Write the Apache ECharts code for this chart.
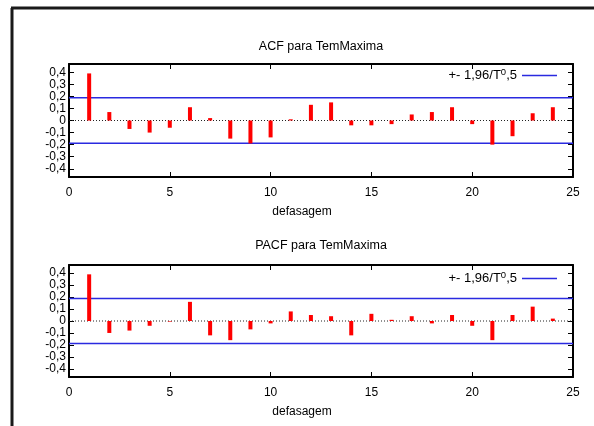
<!DOCTYPE html>
<html>
<head>
<meta charset="utf-8">
<script src="https://cdn.jsdelivr.net/npm/echarts@6/dist/echarts.min.js"></script>
<style>
html,body{margin:0;padding:0;background:#fff;}
#chart{width:594px;height:426px;}
</style>
</head>
<body>
<div id="chart"></div>
<script>
// ---- data ----
const lags = [1,2,3,4,5,6,7,8,9,10,11,12,13,14,15,16,17,18,19,20,21,22,23,24];
const acfValues = [0.39,0.07,-0.07,-0.10,-0.06,0.11,0.02,-0.15,-0.19,-0.14,0.01,0.13,0.15,-0.04,-0.04,-0.03,0.05,0.07,0.11,-0.03,-0.20,-0.13,0.06,0.11];
const pacfValues = [0.39,-0.10,-0.08,-0.04,-0.005,0.16,-0.12,-0.16,-0.07,-0.02,0.08,0.05,0.04,-0.12,0.06,0.01,0.04,-0.02,0.05,-0.04,-0.16,0.05,0.12,0.02];
const bandValue = 0.188;
const yTicks = [-0.4,-0.3,-0.2,-0.1,0,0.1,0.2,0.3,0.4];
const xRange = [0, 25];
const titles = ['ACF para TemMaxima', 'PACF para TemMaxima'];
const xName = 'defasagem';
const bandName = '+- 1,96/T^0,5';

const FONT = '"Liberation Sans", Arial, sans-serif';
const chart = echarts.init(document.getElementById('chart'), null, {renderer:'canvas'});

const grids = [
  {left:69, top:64, width:504, height:113},
  {left:69, top:265, width:504, height:112}
];
const yMax = 0.468;
const BAND_COLOR = '#2a2ae0';

function fmtY(v){
  const r = Math.round(v*10)/10;
  if (r === 0) return '0';
  return r.toFixed(1).replace('.', ',');
}

const xAxes = [], yAxes = [], series = [];
grids.forEach((g, i) => {
  xAxes.push({
    gridIndex:i, type:'value', min:xRange[0], max:xRange[1], interval:5, position:'bottom',
    axisLine:{onZero:false, lineStyle:{color:'#000', width:2}},
    axisTick:{inside:true, length:5, lineStyle:{color:'#000', width:1}},
    axisLabel:{color:'#000', fontSize:12, fontFamily:FONT, margin:10},
    splitLine:{show:false},
    name:xName, nameLocation:'middle', nameGap:29,
    nameTextStyle:{color:'#000', fontSize:12, fontFamily:FONT, padding:[0,38,0,0]}
  });
  xAxes.push({
    gridIndex:i, type:'value', min:xRange[0], max:xRange[1], interval:5, position:'top',
    axisLine:{onZero:false, lineStyle:{color:'#000', width:2}},
    axisTick:{inside:true, length:5, lineStyle:{color:'#000', width:1}},
    axisLabel:{show:false}, splitLine:{show:false}
  });
  yAxes.push({
    gridIndex:i, type:'value', min:-yMax, max:yMax, position:'left',
    axisLine:{onZero:false, lineStyle:{color:'#000', width:2}},
    axisTick:{inside:true, length:5, customValues:yTicks, lineStyle:{color:'#000', width:1}},
    axisLabel:{color:'#000', fontSize:12, lineHeight:12, fontFamily:FONT, margin:3, customValues:yTicks, formatter:fmtY, hideOverlap:false},
    splitLine:{show:false}
  });
  yAxes.push({
    gridIndex:i, type:'value', min:-yMax, max:yMax, position:'right',
    axisLine:{onZero:false, lineStyle:{color:'#000', width:2}},
    axisTick:{inside:true, length:5, customValues:yTicks, lineStyle:{color:'#000', width:1}},
    axisLabel:{show:false, customValues:yTicks}, splitLine:{show:false}
  });
  const vals = i === 0 ? acfValues : pacfValues;
  const xi = i*2, yi = i*2;
  series.push({
    type:'line', xAxisIndex:xi, yAxisIndex:yi, symbol:'none', silent:true,
    data:[[xRange[0],0],[xRange[1],0]],
    lineStyle:{color:'#222', width:1, type:[1,2]}, z:1
  });
  series.push({
    name:bandName, type:'line', xAxisIndex:xi, yAxisIndex:yi, symbol:'none', silent:true,
    data:[[xRange[0],bandValue],[xRange[1],bandValue]],
    lineStyle:{color:BAND_COLOR, width:1.5}, itemStyle:{color:BAND_COLOR}, z:2
  });
  series.push({
    name:bandName, type:'line', xAxisIndex:xi, yAxisIndex:yi, symbol:'none', silent:true,
    data:[[xRange[0],-bandValue],[xRange[1],-bandValue]],
    lineStyle:{color:BAND_COLOR, width:1.5}, itemStyle:{color:BAND_COLOR}, z:2
  });
  series.push({
    type:'bar', xAxisIndex:xi, yAxisIndex:yi, barWidth:4, silent:true,
    data:lags.map((l,k)=>[l, vals[k]]),
    itemStyle:{color:'#ff0000'}, z:3
  });
});

const legendCommon = {
  data:[{name:bandName, icon:'rect'}], right:37, orient:'horizontal', align:'right', padding:0,
  itemWidth:35, itemHeight:1.5, itemGap:6, selectedMode:false,
  itemStyle:{color:BAND_COLOR, borderWidth:0},
  formatter:function(){ return '+- 1,96/T{sup|0},5'; },
  textStyle:{color:'#000', fontSize:13, fontFamily:FONT,
    rich:{sup:{fontSize:9.5, fontFamily:FONT, color:'#000', padding:[0,0,7,0]}}}
};

chart.setOption({
  backgroundColor:'#fff',
  animation:false,
  title:[
    {text:titles[0], left:321, textAlign:'center', top:40, padding:0,
     textStyle:{color:'#000', fontSize:12.5, fontWeight:'normal', fontFamily:FONT}},
    {text:titles[1], left:321, textAlign:'center', top:239, padding:0,
     textStyle:{color:'#000', fontSize:12.5, fontWeight:'normal', fontFamily:FONT}}
  ],
  legend:[
    Object.assign({top:67}, legendCommon),
    Object.assign({top:270}, legendCommon)
  ],
  grid:grids,
  xAxis:xAxes,
  yAxis:yAxes,
  series:series,
  graphic:[
    {type:'line', shape:{x1:11, y1:8, x2:594, y2:8}, style:{stroke:'#1a1a1a', lineWidth:3}},
    {type:'line', shape:{x1:12, y1:8, x2:12, y2:426}, style:{stroke:'#1a1a1a', lineWidth:3}}
  ]
});
</script>
</body>
</html>
